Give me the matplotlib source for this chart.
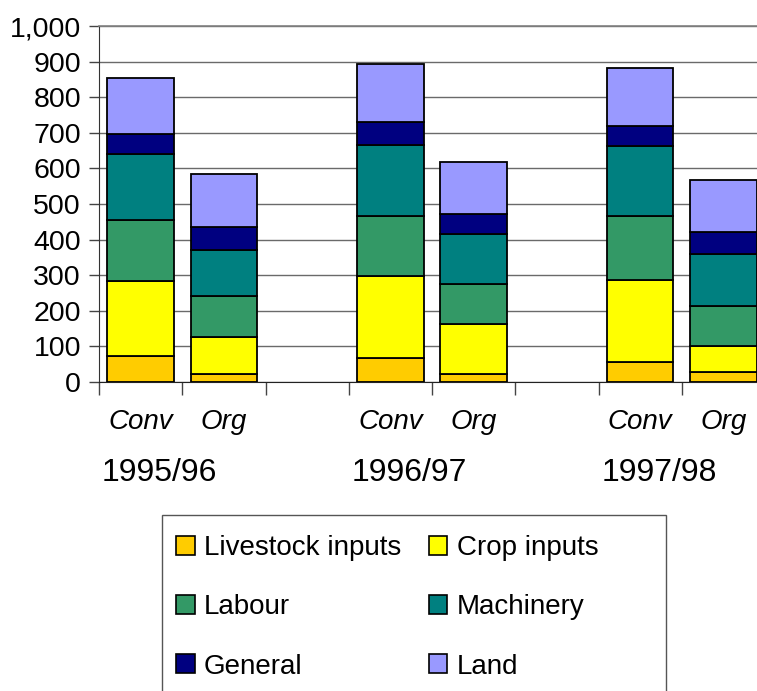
import matplotlib
matplotlib.use("Agg")
import matplotlib.pyplot as plt
from matplotlib.patches import Rectangle
import numpy as np

plt.rcParams['font.family'] = ['Liberation Sans', 'DejaVu Sans']

categories = ["Conv", "Org", "", "Conv", "Org", "", "Conv", "Org"]
years = ["1995/96", "1996/97", "1997/98"]
series_names = ["Livestock inputs", "Crop inputs", "Labour", "Machinery", "General", "Land"]
colors = ["#FFCC00", "#FFFF00", "#339966", "#008080", "#000080", "#9999FF"]

# values per bar (Conv95, Org95, Conv96, Org96, Conv97, Org97)
livestock = [74, 22, 67, 22, 55, 29]
crop = [211, 105, 230, 141, 232, 73]
labour = [170, 115, 170, 112, 180, 111]
machinery = [185, 128, 199, 140, 195, 147]
general = [58, 64, 65, 57, 57, 61]
land = [155, 150, 162, 146, 163, 146]
series = [livestock, crop, labour, machinery, general, land]

bar_pos = [0, 1, 3, 4, 6, 7]

W, H = 757, 691
fig = plt.figure(figsize=(W / 100, H / 100), dpi=100)
ax_l, ax_r, ax_t, ax_b = 99, 765, 26, 382
ax = fig.add_axes([ax_l / W, 1 - ax_b / H, (ax_r - ax_l) / W, (ax_b - ax_t) / H])

bottom = np.zeros(len(bar_pos))
handles = []
for name, vals, c in zip(series_names, series, colors):
    b = ax.bar(bar_pos, vals, width=0.8, bottom=bottom, color=c,
               edgecolor="black", linewidth=1.3, label=name, zorder=3)
    handles.append(b)
    bottom += np.array(vals)

ax.set_xlim(-0.5, 7.5)
ax.set_ylim(0, 1000)
ax.set_yticks(np.arange(0, 1001, 100))
ax.set_yticklabels([f"{v:,}" for v in range(0, 1001, 100)], fontsize=20.5)
ax.yaxis.grid(True, color="#6a6a6a", linewidth=1.0, zorder=0)
ax.set_axisbelow(True)
ax.tick_params(axis='y', length=7, width=1, color="#444444", pad=6)

ax.set_xticks(np.arange(-0.5, 8.0, 1.0))
ax.set_xticklabels([])
ax.tick_params(axis='x', length=9, width=1, color="#444444")

ax.spines["right"].set_visible(False)
ax.spines["top"].set_color("#808080")
ax.spines["top"].set_linewidth(1.2)
ax.spines["left"].set_color("#333333")
ax.spines["bottom"].set_color("#222222")

# category labels
for i, lab in enumerate(categories):
    if lab:
        ax.text(i, (382 - 422) / (ax_b - ax_t), lab, transform=ax.get_xaxis_transform(),
                ha="center", va="center", fontsize=20, style="italic")

for k, yr in enumerate(years):
    ax.text(bar_pos[2 * k] + 0.23, (382 - 473) / (ax_b - ax_t), yr,
            transform=ax.get_xaxis_transform(), ha="center", va="center", fontsize=23)

# legend frame
fig.patches.append(Rectangle((162 / W, -0.05), (666 - 162) / W, 1 - 515 / H + 0.05,
                             transform=fig.transFigure, facecolor="none",
                             edgecolor="#555555", linewidth=1.0))
order = [0, 2, 4, 1, 3, 5]
leg = fig.legend([handles[i] for i in order], [series_names[i] for i in order],
                 ncol=2, loc="upper left", bbox_to_anchor=(176 / W, 1 - 535 / H),
                 frameon=False, fontsize=20, borderpad=0, handlelength=0.67,
                 handleheight=0.67, handletextpad=0.33, columnspacing=1.0,
                 labelspacing=1.2, borderaxespad=0)
for p in leg.get_patches():
    p.set_linewidth(1.2)

fig.savefig("out.png", dpi=100)
